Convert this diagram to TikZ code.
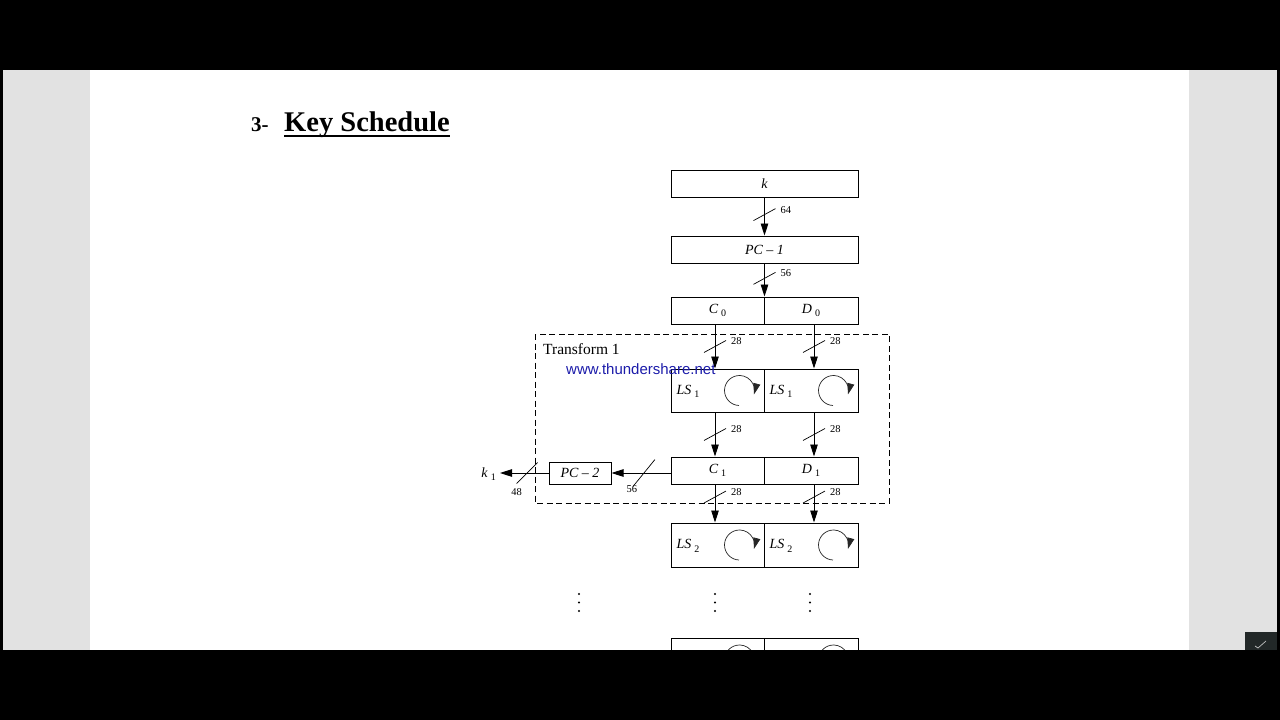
\documentclass[tikz,border=0pt]{standalone}
\usepackage{fontspec}
\setmainfont{Liberation Serif}
\newfontfamily\wmfont{Liberation Sans}
\usetikzlibrary{arrows.meta,calc}
\definecolor{side}{RGB}{226,226,226}
\definecolor{wmblue}{RGB}{28,28,170}
\definecolor{icon}{RGB}{34,40,40}
\newcommand{\sbs}[2]{\textit{#1}\kern3pt\raisebox{-3.5pt}{\upshape\fontsize{10}{10}\selectfont #2}}
\begin{document}
\begin{tikzpicture}[x=1pt,y=-1pt,
  box/.style={draw, line width=1pt, inner sep=0pt, minimum height=27pt,
    font=\fontsize{14}{14}\selectfont\itshape},
  arr/.style={-{Triangle[length=12pt,width=7.5pt]}, line width=0.9pt},
  sl/.style={line width=0.7pt},
  num/.style={font=\fontsize{10.5}{10.5}\selectfont, inner sep=0pt},
  lab/.style={font=\fontsize{14}{14}\selectfont, inner sep=0pt, anchor=west},
  cyc/.style={-{Triangle[length=11pt,width=7pt]}, line width=0.7pt, black!85},
  dotf/.style={fill=black}]
% page background
\fill[black] (0,0) rectangle (1280,720);
\fill[side] (3,70) rectangle (1277,650);
\fill[white] (90,70) rectangle (1189,650);
\useasboundingbox (0,0) rectangle (1280,720);

% title
\node[anchor=base west, inner sep=0pt, font=\bfseries\fontsize{21}{21}\selectfont] (num3) at (251,131) {3-};
\node[anchor=base west, inner sep=0pt, font=\bfseries\fontsize{28.5}{28.5}\selectfont] (title) at (284,131) {Key Schedule};
\draw[line width=2pt] ([yshift=-5pt]title.base west) -- ([yshift=-5pt]title.base east);

% boxes
\node[box, minimum width=187pt] (k) at (764.5,183.5) {k};
\node[box, minimum width=187pt] (pc1) at (764.5,249.5) {PC -- 1};
\node[box, minimum width=93pt] (c0) at (717.5,310.5) {\sbs{C}{0}};
\node[box, minimum width=94pt] (d0) at (811,310.5) {\sbs{D}{0}};
\node[box, minimum width=93pt, minimum height=43pt] (lsa) at (717.5,390.5) {};
\node[box, minimum width=94pt, minimum height=43pt] (lsb) at (811,390.5) {};
\node[box, minimum width=93pt] (c1) at (717.5,470.5) {\sbs{C}{1}};
\node[box, minimum width=94pt] (d1) at (811,470.5) {\sbs{D}{1}};
\node[box, minimum width=62pt, minimum height=22pt] (pc2) at (580,473) {PC -- 2};
\node[box, minimum width=93pt, minimum height=44pt] (lsc) at (717.5,545) {};
\node[box, minimum width=94pt, minimum height=44pt] (lsd) at (811,545) {};
\node[box, minimum width=93pt, minimum height=44pt] (lse) at (717.5,660) {};
\node[box, minimum width=94pt, minimum height=44pt] (lsf) at (811,660) {};
\node[inner sep=0pt, font=\fontsize{14}{14}\selectfont, anchor=east] (k1) at (496,474) {\sbs{k}{1}};

% LS labels
\node[lab] (tlsa) at ($(lsa.west)+(6,1)$) {\sbs{LS}{1}};
\node[lab] (tlsb) at ($(lsb.west)+(6,1)$) {\sbs{LS}{1}};
\node[lab] (tlsc) at ($(lsc.west)+(6,1)$) {\sbs{LS}{2}};
\node[lab] (tlsd) at ($(lsd.west)+(6,1)$) {\sbs{LS}{2}};

% rotation symbols
\foreach \b in {lsa,lsb,lsc,lsd,lse,lsf}{
  \draw[cyc] ($(\b.east)+(-25,0)$) ++(92:15) arc[start angle=92, end angle=375, radius=15];
}

% transform box
\draw[dashed, dash pattern=on 6pt off 3.5pt, line width=1pt] (535,334) rectangle (889,503);
\node[anchor=base west, inner sep=0pt, font=\fontsize{15.5}{15.5}\selectfont] (tr) at (543,354) {Transform 1};
\node[anchor=base west, inner sep=0pt, text=wmblue, font=\wmfont\fontsize{15}{15}\selectfont] (wm) at (566,374) {www.thundershare.net};

% connectors
\draw[arr] (k) -- coordinate[pos=0.45] (s1) (pc1);
\draw[arr] (pc1) -- coordinate[pos=0.45] (s2) (c0.north east);
\draw[arr] ([xshift=-2.5pt]c0.south) -- coordinate[pos=0.5] (s3) ([xshift=-2.5pt]lsa.north);
\draw[arr] ([xshift=3pt]d0.south) -- coordinate[pos=0.5] (s4) ([xshift=3pt]lsb.north);
\draw[arr] ([xshift=-2.5pt]lsa.south) -- coordinate[pos=0.5] (s5) ([xshift=-2.5pt]c1.north);
\draw[arr] ([xshift=3pt]lsb.south) -- coordinate[pos=0.5] (s6) ([xshift=3pt]d1.north);
\draw[arr] ([xshift=-2.5pt]c1.south) -- coordinate[pos=0.33] (s7) ([xshift=-2.5pt]lsc.north);
\draw[arr] ([xshift=3pt]d1.south) -- coordinate[pos=0.33] (s8) ([xshift=3pt]lsd.north);
\draw[arr] (c1.west |- pc2) -- coordinate[pos=0.45] (s9) (pc2.east);
\draw[arr] (pc2.west) -- coordinate[pos=0.44] (s10) ([xshift=4pt]k1.east |- pc2);

% bit-width slashes and labels
\foreach \s/\t in {s1/64,s2/56,s3/28,s4/28,s5/28,s6/28,s7/28,s8/28}{
  \draw[sl] (\s) ++(-11,6) -- ++(22,-12);
  \node[num, anchor=west] at ($(\s)+(16,-5)$) {\t};
}
\draw[sl] (s9) ++(-11,13.5) -- ++(22,-27);
\node[num] at ($(s9)+(-12,16)$) {56};
\draw[sl] (s10) ++(-10.5,10.5) -- ++(21,-21);
\node[num] at ($(s10)+(-10.5,19)$) {48};

% continuation dots
\foreach \x in {579,715,810}{
  \foreach \y in {594,602.5,611}{
    \fill[dotf] (\x,\y) circle[radius=1.1pt];
  }
}

% bottom bar and icon
\fill[black] (0,650) rectangle (1280,720);
\fill[icon] (1245,632) rectangle (1277,650);
\draw[white!70!icon, line width=0.7pt] (1255,646) -- (1258,648) -- (1266,641);
\end{tikzpicture}
\end{document}
